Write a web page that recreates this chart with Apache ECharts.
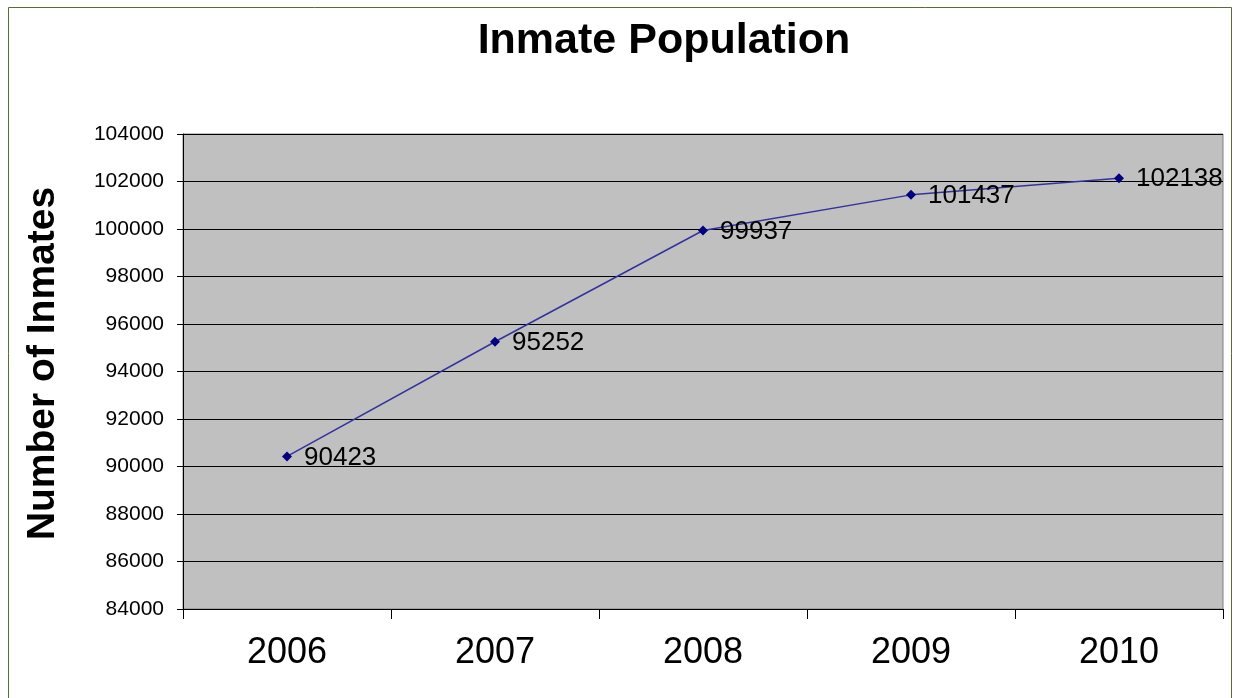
<!DOCTYPE html>
<html><head><meta charset="utf-8">
<script src="https://cdn.jsdelivr.net/npm/echarts@6/dist/echarts.min.js"></script>
<style>html,body{margin:0;padding:0;background:#fff}#c{width:1235px;height:698px}</style>
</head><body><div id="c"></div>
<script>
const years = ['2006','2007','2008','2009','2010'];
const inmates = [90423, 95252, 99937, 101437, 102138];
const yMin = 84000, yMax = 104000, yStep = 2000;

const chart = echarts.init(document.getElementById('c'));
chart.setOption({
  animation: false,
  backgroundColor: '#ffffff',
  graphic: [{
    type: 'rect', shape: {x: 8.5, y: 7.5, width: 1223, height: 700},
    style: {fill: 'none', stroke: '#5a6b3a', lineWidth: 1}, silent: true
  }],
  title: {
    text: 'Inmate Population', left: 659, top: 15, textAlign: 'center',
    textStyle: {fontFamily: 'Liberation Sans, Arial', fontWeight: 'bold', fontSize: 43, color: '#000'}
  },
  grid: {left: 183, right: 12, top: 134, bottom: 89, show: true, backgroundColor: '#c0c0c0', borderColor: '#808080', borderWidth: 1},
  xAxis: {
    type: 'category', data: years, boundaryGap: true,
    axisLine: {lineStyle: {color: '#000', width: 1}},
    axisTick: {show: true, length: 10, lineStyle: {color: '#000'}},
    axisLabel: {fontFamily: 'Liberation Sans, Arial', fontSize: 36, color: '#000', margin: 26}
  },
  yAxis: {
    type: 'value', min: yMin, max: yMax, interval: yStep,
    name: 'Number of Inmates', nameLocation: 'middle', nameGap: 120, nameRotate: 90,
    nameTextStyle: {fontFamily: 'Liberation Sans, Arial', fontWeight: 'bold', fontSize: 39, color: '#000', padding: [0, 0, 0, 16]},
    axisLine: {show: true, lineStyle: {color: '#000'}},
    axisTick: {show: true, length: 6, lineStyle: {color: '#000'}},
    axisLabel: {fontFamily: 'Liberation Sans, Arial', fontSize: 21, color: '#000', margin: 19, formatter: v => String(v)},
    splitLine: {show: true, lineStyle: {color: '#000', width: 1}}
  },
  series: [{
    type: 'line', data: inmates,
    symbol: 'diamond', symbolSize: 10,
    lineStyle: {color: '#33339f', width: 1.5},
    itemStyle: {color: '#000080'},
    label: {show: true, position: 'right', distance: 12, fontFamily: 'Liberation Sans, Arial', fontSize: 26, color: '#000', offset: [0, 1]}
  }]
});
</script></body></html>
